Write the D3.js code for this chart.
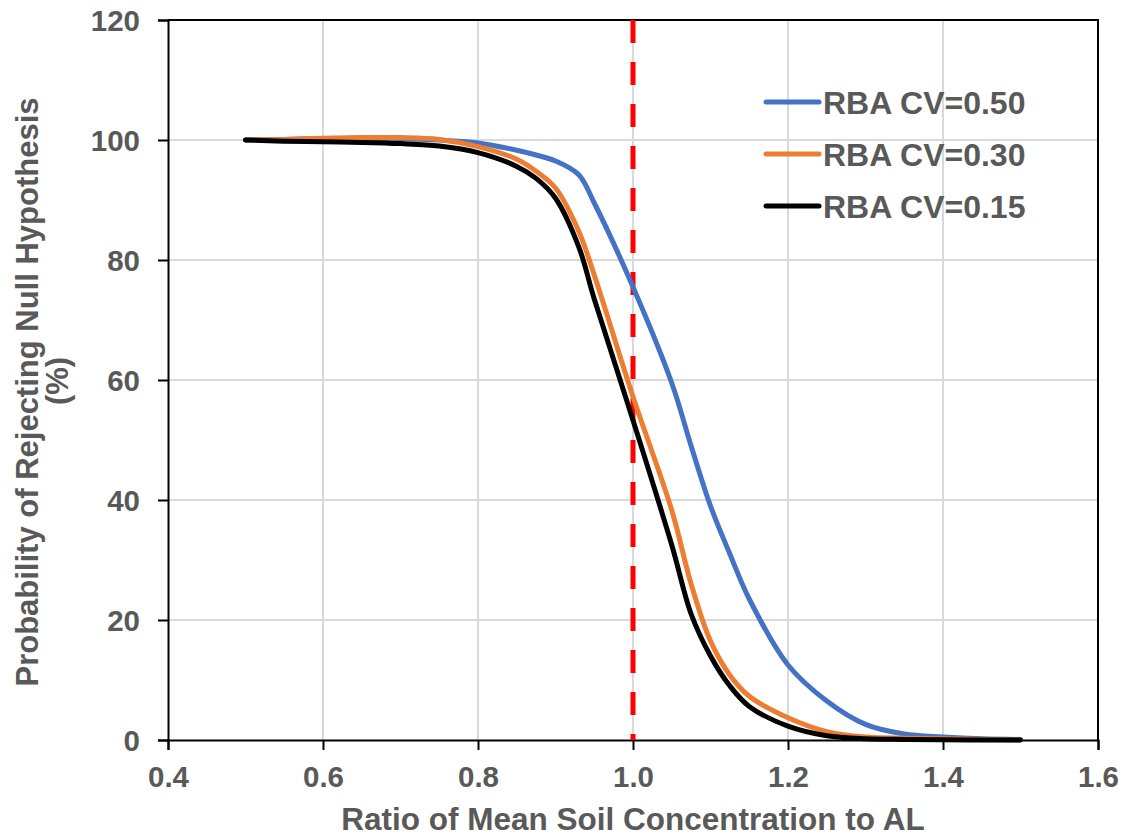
<!DOCTYPE html>
<html>
<head>
<meta charset="utf-8">
<script src="https://cdn.jsdelivr.net/npm/d3@7"></script>
<style>
  body { margin: 0; background: #fff; }
  svg text { font-family: "Liberation Sans", Arial, sans-serif; font-weight: bold; fill: #595959; }
</style>
</head>
<body>
<div id="chart"></div>
<script>
// chart data
var ratio = [0.5, 0.55, 0.6, 0.65, 0.7, 0.75, 0.8, 0.85, 0.875, 0.9, 0.93, 0.95, 1.0, 1.05, 1.075, 1.1, 1.125, 1.15, 1.2, 1.25, 1.3, 1.35, 1.4, 1.45, 1.5];

var cv50 = [100, 100.1, 100.2, 100.3, 100.2, 100.0, 99.5, 98.3, 97.5, 96.5, 94.2, 89.5, 75.5, 59.5, 49.0, 39.0, 31.0, 23.5, 12.5, 6.5, 2.6, 1.0, 0.5, 0.2, 0.1];
var cv30 = [100, 100.1, 100.3, 100.4, 100.4, 100.1, 98.9, 96.8, 94.8, 92.0, 84.8, 77.5, 57.2, 38.3, 26.0, 16.5, 10.8, 7.3, 3.7, 1.4, 0.5, 0.3, 0.2, 0.1, 0.0];
var cv15 = [100, 99.8, 99.7, 99.6, 99.4, 99.0, 97.9, 95.6, 93.6, 90.3, 82.2, 73.5, 53.3, 32.5, 21.0, 14.0, 9.0, 5.6, 2.3, 0.7, 0.2, 0.1, 0.05, 0.0, 0.0];

var seriesNames = ["RBA CV=0.50", "RBA CV=0.30", "RBA CV=0.15"];
var seriesColors = ["#4472C4", "#ED7D31", "#000000"];
var seriesValues = [cv50, cv30, cv15];

var xTicks = [0.4, 0.6, 0.8, 1.0, 1.2, 1.4, 1.6];
var yTicks = [0, 20, 40, 60, 80, 100, 120];
var refLineX = 1.0;

var width = 1126,
    height = 837;
var margin = { top: 20, right: 28, bottom: 97, left: 168 };

var svg = d3.select("#chart").append("svg")
  .attr("width", width)
  .attr("height", height);

var x = d3.scaleLinear().domain([0.4, 1.6]).range([margin.left, width - margin.right]);
var y = d3.scaleLinear().domain([0, 120]).range([height - margin.bottom, margin.top]);

// gridlines
svg.append("g").attr("class", "grid-x")
  .selectAll("line")
  .data(xTicks.slice(1, -1))
  .enter().append("line")
  .attr("x1", d => x(d)).attr("x2", d => x(d))
  .attr("y1", y(0)).attr("y2", y(120))
  .attr("stroke", "#d9d9d9")
  .attr("stroke-width", 2);

svg.append("g").attr("class", "grid-y")
  .selectAll("line")
  .data(yTicks.slice(1, -1))
  .enter().append("line")
  .attr("x1", x(0.4)).attr("x2", x(1.6))
  .attr("y1", d => y(d)).attr("y2", d => y(d))
  .attr("stroke", "#d9d9d9")
  .attr("stroke-width", 2);

// axes
var xAxis = svg.append("g")
  .attr("transform", `translate(0,${y(0)})`)
  .call(d3.axisBottom(x).tickValues(xTicks).tickFormat(d3.format(".1f")).tickSize(10).tickPadding(10));

var yAxis = svg.append("g")
  .attr("transform", `translate(${x(0.4)},0)`)
  .call(d3.axisLeft(y).tickValues(yTicks).tickFormat(d3.format("d")).tickSize(10).tickPadding(18));

[xAxis, yAxis].forEach(function (a) {
  a.select(".domain").attr("stroke", "#000").attr("stroke-width", 2);
  a.selectAll(".tick line").attr("stroke", "#000").attr("stroke-width", 2);
  a.selectAll(".tick text")
    .attr("fill", "#595959")
    .style("font-size", "29.5px")
    .style("font-family", "'Liberation Sans', Arial, sans-serif")
    .style("font-weight", "bold");
});
xAxis.selectAll(".tick text").attr("dy", "0.92em");
yAxis.selectAll(".tick text").attr("dy", "0.36em");

// top and right border of the plot
svg.append("path")
  .attr("d", `M${x(0.4)},${y(120)}H${x(1.6)}V${y(0)}`)
  .attr("fill", "none")
  .attr("stroke", "#000")
  .attr("stroke-width", 2);

// red reference line at ratio 1.0
svg.append("line")
  .attr("x1", x(refLineX)).attr("x2", x(refLineX))
  .attr("y1", y(120)).attr("y2", y(0))
  .attr("stroke", "#FF0000")
  .attr("stroke-width", 5)
  .attr("stroke-dasharray", "23,19");

// curves
var line = d3.line()
  .x(d => x(d[0]))
  .y(d => y(Math.max(0, d[1])))
  .curve(d3.curveCatmullRom.alpha(0.5));

seriesValues.forEach(function (vals, i) {
  svg.append("path")
    .datum(ratio.map((r, j) => [r, vals[j]]))
    .attr("d", line)
    .attr("fill", "none")
    .attr("stroke", seriesColors[i])
    .attr("stroke-width", 5)
    .attr("stroke-linecap", "round")
    .attr("stroke-linejoin", "round");
});

// legend
var legend = svg.append("g").attr("class", "legend")
  .selectAll("g")
  .data(seriesNames)
  .enter().append("g")
  .attr("transform", (d, i) => `translate(766,${102 + i * 52})`);

legend.append("line")
  .attr("x1", 0).attr("x2", 53)
  .attr("stroke", (d, i) => seriesColors[i])
  .attr("stroke-width", 5)
  .attr("stroke-linecap", "round");

legend.append("text")
  .attr("x", 57)
  .attr("dy", "0.36em")
  .style("font-size", "32px")
  .text(d => d);

// axis titles
svg.append("text")
  .attr("x", x(1.0))
  .attr("y", 830)
  .attr("text-anchor", "middle")
  .style("font-size", "31.5px")
  .text("Ratio of Mean Soil Concentration to AL");

svg.append("text")
  .attr("transform", "translate(38,392) rotate(-90)")
  .attr("text-anchor", "middle")
  .style("font-size", "31px")
  .text("Probability of Rejecting Null Hypothesis");

svg.append("text")
  .attr("transform", "translate(68,381) rotate(-90)")
  .attr("text-anchor", "middle")
  .style("font-size", "31px")
  .text("(%)");
</script>
</body>
</html>
